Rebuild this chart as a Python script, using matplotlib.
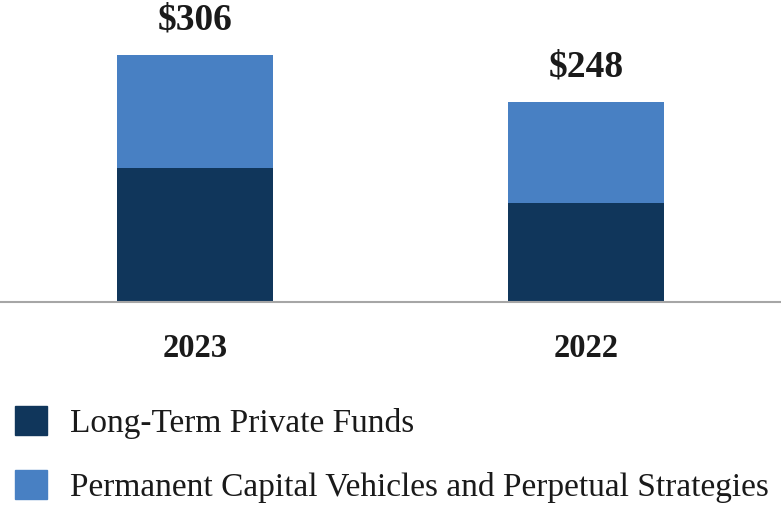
import matplotlib.pyplot as plt
from matplotlib.patches import Patch

# values in $ millions
years = ["2023", "2022"]
long_term = [166, 122]
permanent = [140, 126]
totals = [306, 248]
series_names = ["Long-Term Private Funds",
                "Permanent Capital Vehicles and Perpetual Strategies"]

dark = "#10365b"
light = "#4880c3"

plt.rcParams['font.family'] = ['Liberation Serif', 'DejaVu Serif']

fig = plt.figure(figsize=(7.81, 5.16), dpi=100)
ax = fig.add_axes([0, 1 - 302 / 516, 1, 302 / 516])

x = [0, 1]
ax.bar(x, long_term, width=0.4, color=dark)
ax.bar(x, permanent, width=0.4, bottom=long_term, color=light)

for xi, t in zip(x, totals):
    ax.annotate("$%d" % t, (xi, t), xytext=(0, 18), textcoords="offset points",
                ha="center", va="baseline", fontsize=27, fontweight="bold",
                color="#1a1a1a")

ax.set_xlim(-0.5, 1.5)
ax.set_ylim(0, 374)
ax.set_xticks(x)
ax.set_xticklabels(years, fontsize=23.5, fontweight="bold", color="#1a1a1a")
ax.tick_params(axis="x", length=0, pad=22)
ax.set_yticks([])
for s in ["top", "left", "right"]:
    ax.spines[s].set_visible(False)
ax.spines["bottom"].set_color("#a6a6a6")
ax.spines["bottom"].set_linewidth(1.5)
ax.patch.set_alpha(0)

handles = [Patch(color=dark), Patch(color=light)]
fig.legend(handles, series_names, loc="upper left",
           bbox_to_anchor=(15 / 781, 1 - 406 / 516), frameon=False,
           fontsize=24, handlelength=0.95, handleheight=0.95,
           handletextpad=0.7, labelspacing=0.95, borderpad=0, borderaxespad=0,
           labelcolor="#1a1a1a")

fig.savefig("out.png", dpi=100)
